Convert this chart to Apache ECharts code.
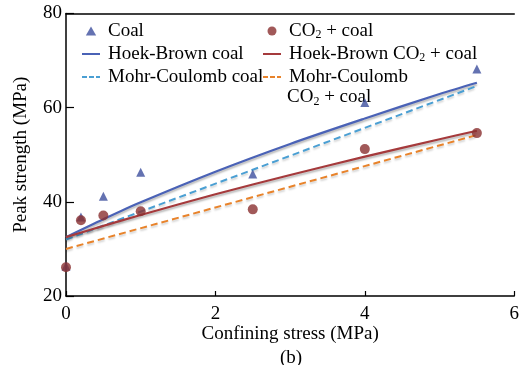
<!DOCTYPE html>
<html>
<head>
<meta charset="utf-8">
<script src="https://cdn.jsdelivr.net/npm/echarts@6/dist/echarts.min.js"></script>
<style>
  html, body { margin: 0; padding: 0; background: #fff; }
  #chart { width: 522px; height: 365px; }
</style>
</head>
<body>
<div id="chart"></div>
<script>
// Confining stress (MPa) of the triaxial tests
const testStress = [0, 0.2, 0.5, 1, 2.5, 4, 5.5];
// Measured peak strength (MPa)
const coalPeak = [26.3, 36.8, 41.2, 46.3, 45.9, 61.1, 68.2];
const co2CoalPeak = [26.1, 36.1, 37.1, 38.0, 38.4, 51.2, 54.6];

// Hoek-Brown fitted curves
const hbStress = [0, 0.5, 1, 2, 3, 4, 5, 5.5];
const hbCoal = [32.5, 36.3, 39.9, 46.4, 52.3, 57.7, 62.9, 65.3];
const hbCo2Coal = [32.5, 34.9, 37.2, 41.6, 45.7, 49.6, 53.3, 55.1];

// Mohr-Coulomb fitted lines
const mcStress = [0, 5.5];
const mcCoal = [32.0, 64.6];
const mcCo2Coal = [30.0, 54.2];

// Axis ticks
const xTicks = { min: 0, max: 6, interval: 2 };
const yTicks = { min: 20, max: 80, interval: 20 };

const FONT = 'Liberation Serif';
const pairs = (xs, ys) => xs.map((x, i) => [x, ys[i]]);

const richText = {
  sub: { fontFamily: FONT, fontSize: 12, color: '#000', padding: [8, 0, 0, 0] }
};
const labelFormatter = name => {
  if (name === 'Mohr-Coulomb CO2 + coal') return 'Mohr-Coulomb';
  return name.replace('CO2', 'CO{sub|2}');
};
const legendText = {
  fontFamily: FONT, fontSize: 19, color: '#000', lineHeight: 22,
  padding: [0, 0, 0, 3], rich: richText
};

// legend glyphs
const triIcon = 'path://M4 0L8 7L0 7Z';
const solidIcon = 'path://M0 0H18V2H0Z';
const dashIcon = 'path://M0 0H5V2H0Z M7 0H12V2H7Z M14 0H18V2H14Z';

const lineShadow = { shadowColor: 'rgba(0,0,0,0.3)', shadowBlur: 2, shadowOffsetY: 2 };
const dashShadow = { shadowColor: 'rgba(0,0,0,0.18)', shadowBlur: 2, shadowOffsetY: 2 };

const legendBase = {
  orient: 'vertical', top: 15, itemWidth: 18, itemHeight: 9, itemGap: 1,
  symbolKeepAspect: true, formatter: labelFormatter, textStyle: legendText
};

const chart = echarts.init(document.getElementById('chart'), null, { renderer: 'canvas' });
chart.setOption({
  animation: false,
  backgroundColor: '#fff',
  grid: { left: 66, right: 3, top: 13.5, bottom: 69 },
  legend: [
    Object.assign({}, legendBase, {
      left: 77,
      data: [
        { name: 'Coal', icon: triIcon },
        { name: 'Hoek-Brown coal', icon: solidIcon },
        { name: 'Mohr-Coulomb coal', icon: dashIcon }
      ]
    }),
    Object.assign({}, legendBase, {
      left: 258,
      data: [
        'CO2 + coal',
        { name: 'Hoek-Brown CO2 + coal', icon: solidIcon },
        { name: 'Mohr-Coulomb CO2 + coal', icon: dashIcon }
      ]
    })
  ],
  xAxis: [
    {
      type: 'value', min: xTicks.min, max: xTicks.max, interval: xTicks.interval,
      name: 'Confining stress (MPa)', nameLocation: 'middle', nameGap: 29,
      nameMoveOverlap: false,
      nameTextStyle: { fontFamily: FONT, fontSize: 19, color: '#000' },
      axisLine: { lineStyle: { color: '#000', width: 1.5 } },
      axisTick: { inside: true, length: 5, lineStyle: { color: '#000', width: 1.2 } },
      axisLabel: { fontFamily: FONT, fontSize: 19, color: '#000', margin: 9 },
      splitLine: { show: false }
    },
    {
      type: 'value', position: 'top', min: xTicks.min, max: xTicks.max,
      axisLine: { lineStyle: { color: '#000', width: 1.5 } },
      axisTick: { show: false }, axisLabel: { show: false }, splitLine: { show: false }
    }
  ],
  yAxis: {
    type: 'value', min: yTicks.min, max: yTicks.max, interval: yTicks.interval,
    name: 'Peak strength (MPa)', nameLocation: 'middle', nameGap: 35,
    nameTextStyle: { fontFamily: FONT, fontSize: 19, color: '#000' },
    axisLine: { lineStyle: { color: '#000', width: 1.5 } },
    axisTick: { inside: true, length: 8, lineStyle: { color: '#000', width: 1.2 } },
    axisLabel: { fontFamily: FONT, fontSize: 19, color: '#000', margin: 4 },
    splitLine: { show: false }
  },
  graphic: [
    {
      // second line of the last legend entry
      type: 'text', left: 287, top: 88,
      style: {
        text: 'CO{sub|2} + coal', fontFamily: FONT, fontSize: 19, fill: '#000',
        rich: richText
      }
    },
    {
      type: 'text', left: 280, top: 349,
      style: { text: '(b)', fontFamily: FONT, fontSize: 19, fill: '#000' }
    }
  ],
  series: [
    {
      name: 'Hoek-Brown coal', type: 'line', smooth: 0.3, symbol: 'none',
      data: pairs(hbStress, hbCoal),
      lineStyle: Object.assign({ color: '#4a62b6', width: 2.2 }, lineShadow),
      itemStyle: { color: '#4a62b6' }, z: 3
    },
    {
      name: 'Mohr-Coulomb coal', type: 'line', symbol: 'none',
      data: pairs(mcStress, mcCoal),
      lineStyle: Object.assign({ color: '#4a9fd3', width: 2, type: [7, 4] }, dashShadow),
      itemStyle: { color: '#4a9fd3' }, z: 3
    },
    {
      name: 'Hoek-Brown CO2 + coal', type: 'line', smooth: 0.3, symbol: 'none',
      data: pairs(hbStress, hbCo2Coal),
      lineStyle: Object.assign({ color: '#a53a3c', width: 2.2 }, lineShadow),
      itemStyle: { color: '#a53a3c' }, z: 3
    },
    {
      name: 'Mohr-Coulomb CO2 + coal', type: 'line', symbol: 'none',
      data: pairs(mcStress, mcCo2Coal),
      lineStyle: Object.assign({ color: '#e8832b', width: 2, type: [7, 4] }, dashShadow),
      itemStyle: { color: '#e8832b' }, z: 3
    },
    {
      name: 'Coal', type: 'scatter', symbol: 'triangle', symbolSize: 9, clip: false,
      data: pairs(testStress, coalPeak),
      itemStyle: { color: '#3d4f9e' }, z: 4
    },
    {
      name: 'CO2 + coal', type: 'scatter', symbol: 'circle', symbolSize: 10, clip: false,
      data: pairs(testStress, co2CoalPeak),
      itemStyle: { color: '#8a2f30' }, z: 5
    }
  ]
});
</script>
</body>
</html>
